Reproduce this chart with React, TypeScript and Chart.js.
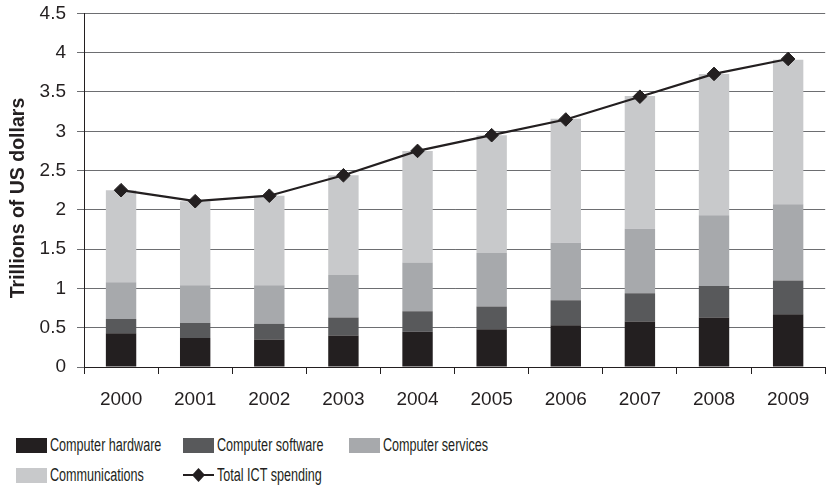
import React, { useEffect, useRef } from "react";
import { Chart, registerables } from "chart.js";

Chart.register(...registerables);

const categories = ["2000", "2001", "2002", "2003", "2004", "2005", "2006", "2007", "2008", "2009"];
const hardware = [0.43, 0.37, 0.35, 0.40, 0.45, 0.48, 0.53, 0.58, 0.63, 0.67];
const software = [0.18, 0.19, 0.20, 0.23, 0.26, 0.29, 0.32, 0.36, 0.40, 0.43];
const services = [0.47, 0.48, 0.49, 0.54, 0.62, 0.68, 0.73, 0.82, 0.90, 0.97];
const communications = [1.17, 1.07, 1.14, 1.27, 1.42, 1.50, 1.58, 1.69, 1.80, 1.84];
const totalICT = [2.25, 2.11, 2.18, 2.44, 2.75, 2.95, 3.15, 3.44, 3.73, 3.92];
const yTicks = [0, 0.5, 1, 1.5, 2, 2.5, 3, 3.5, 4, 4.5];
const yTitle = "Trillions of US dollars";

const seriesNames = ["Computer hardware", "Computer software", "Computer services", "Communications", "Total ICT spending"];
const colors = ["#231f20", "#58595b", "#a7a9ac", "#c8c9cb", "#231f20"];

const FONT = "'Liberation Sans', Arial, Helvetica, sans-serif";
const CANVAS_TOP = -9;

const yTitlePlugin = {
  id: "yTitleOffset",
  afterDraw(chart: any) {
    const ctx = chart.ctx;
    ctx.save();
    ctx.translate(24, 198 - CANVAS_TOP);
    ctx.rotate(-Math.PI / 2);
    ctx.font = `bold 19.5px ${FONT}`;
    ctx.fillStyle = "#231f20";
    ctx.textAlign = "center";
    ctx.textBaseline = "alphabetic";
    ctx.fillText(yTitle, 0, 0);
    ctx.restore();
  },
};

export default function App() {
  const canvasRef = useRef<HTMLCanvasElement | null>(null);

  useEffect(() => {
    const canvas = canvasRef.current;
    if (!canvas) return;
    const barCommon = { barPercentage: 0.41, categoryPercentage: 1, stack: "s", borderWidth: 0, order: 2 };
    const chart = new Chart(canvas, {
      type: "bar",
      data: {
        labels: categories,
        datasets: [
          { type: "line", label: seriesNames[4], data: totalICT, borderColor: colors[4], backgroundColor: colors[4], borderWidth: 2.2, pointStyle: "rectRot", pointRadius: 6.8, pointBorderWidth: 1, pointBackgroundColor: colors[4], pointBorderColor: colors[4], tension: 0, order: 1 } as any,
          { label: seriesNames[0], data: hardware, backgroundColor: colors[0], ...barCommon },
          { label: seriesNames[1], data: software, backgroundColor: colors[1], ...barCommon },
          { label: seriesNames[2], data: services, backgroundColor: colors[2], ...barCommon },
          { label: seriesNames[3], data: communications, backgroundColor: colors[3], ...barCommon },
        ],
      },
      plugins: [yTitlePlugin],
      options: {
        animation: false,
        responsive: true,
        maintainAspectRatio: false,
        layout: { padding: { top: 0, left: 0, right: 1, bottom: 13 } },
        plugins: { legend: { display: false }, tooltip: { enabled: false } },
        scales: {
          x: {
            stacked: true,
            offset: true,
            grid: { offset: true, drawOnChartArea: false, drawTicks: true, tickLength: 7, color: "#231f20", lineWidth: 1 },
            border: { display: true, color: "#231f20", width: 1 },
            ticks: { color: "#231f20", font: { family: FONT, size: 19 }, padding: 14, maxRotation: 0 },
            afterFit: (s: any) => { s.height = 40; },
          },
          y: {
            stacked: true,
            min: 0,
            max: 4.5,
            afterBuildTicks: (s: any) => { s.ticks = yTicks.map((v) => ({ value: v })); },
            grid: { color: "#6d6e71", lineWidth: 1, tickLength: 7, drawTicks: true },
            border: { display: true, color: "#231f20", width: 1 },
            ticks: { color: "#231f20", font: { family: FONT, size: 19 }, padding: 11, callback: (v: any) => String(v) },
            title: { display: false, text: yTitle },
            afterFit: (s: any) => { s.width = 84; },
          },
        },
      },
    });
    return () => chart.destroy();
  }, []);

  const box = (c: string) => (
    <span style={{ display: "inline-block", width: 31, height: 15, background: c, marginRight: 3, flex: "none" }} />
  );
  const item = (left: number, top: number, sym: React.ReactNode, text: string) => (
    <div style={{ position: "absolute", left, top, height: 20, display: "flex", alignItems: "center", whiteSpace: "nowrap" }}>
      {sym}
      <span style={{ display: "inline-block", font: `18px ${FONT}`, color: "#231f20", lineHeight: "20px", transform: "scaleX(0.7)", transformOrigin: "left center" }}>{text}</span>
    </div>
  );
  const lineSym = (
    <svg width={34} height={16} style={{ flex: "none" }}>
      <line x1={0} y1={8} x2={31} y2={8} stroke="#231f20" strokeWidth={2} />
      <polygon points="15.5,1 22,8 15.5,15 9,8" fill="#231f20" />
    </svg>
  );

  return (
    <div style={{ position: "absolute", left: 0, top: 0, width: 833, height: 487, background: "#fff", overflow: "hidden" }}>
      <div style={{ position: "absolute", left: 0, top: CANVAS_TOP, width: 833, height: 429 }}>
        <canvas ref={canvasRef} />
      </div>
      {item(16, 435, box(colors[0]), seriesNames[0])}
      {item(183, 435, box(colors[1]), seriesNames[1])}
      {item(349, 435, box(colors[2]), seriesNames[2])}
      {item(16, 465, box(colors[3]), seriesNames[3])}
      {item(183, 465, lineSym, seriesNames[4])}
    </div>
  );
}
